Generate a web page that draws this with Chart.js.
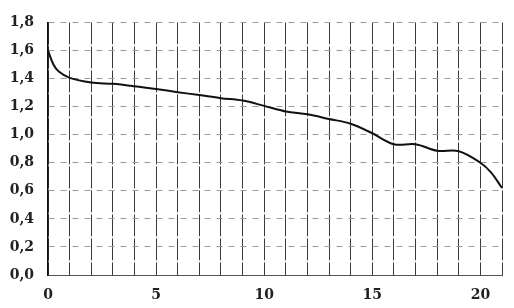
<!DOCTYPE html>
<html>
<head>
<meta charset="utf-8">
<script src="https://cdn.jsdelivr.net/npm/chart.js@4/dist/chart.umd.min.js"></script>
<style>
  body { margin: 0; background: #fff; }
  #wrap { width: 514px; height: 308px; }
</style>
</head>
<body>
<div id="wrap"><canvas id="chart"></canvas></div>
<script>
// values
var xValues = [0, 0.25, 0.5, 1, 2, 3, 4, 5, 6, 7, 8, 9, 10, 11, 12, 13, 14, 15, 16, 17, 18, 19, 20, 20.5, 21];
var yValues = [1.60, 1.50, 1.45, 1.405, 1.372, 1.362, 1.345, 1.325, 1.303, 1.282, 1.260, 1.243, 1.205, 1.165, 1.145, 1.112, 1.078, 1.010, 0.932, 0.932, 0.885, 0.882, 0.80, 0.73, 0.62];
var xTickLabels = [0, 5, 10, 15, 20];

var points = [];
for (var i = 0; i < xValues.length; i++) {
    points.push({x: xValues[i], y: yValues[i]});
}

var labelFont = {family: "'DejaVu Serif', 'Liberation Serif', serif", size: 14, weight: 'bold'};

var chart = new Chart("chart", {
    type: "line",
    data: {
        datasets: [{
            data: points,
            borderColor: "#111",
            borderWidth: 2,
            pointRadius: 0,
            fill: false,
            tension: 0.35
        }]
    },
    options: {
        responsive: true,
        maintainAspectRatio: false,
        animation: false,
        layout: {padding: {top: 15, right: 10, left: 0, bottom: 0}},
        plugins: {legend: {display: false}, tooltip: {enabled: false}},
        scales: {
            x: {
                type: "linear",
                min: 0,
                max: 21,
                ticks: {
                    stepSize: 1,
                    autoSkip: false,
                    maxRotation: 0,
                    minRotation: 0,
                    padding: 12,
                    color: "#222",
                    font: labelFont,
                    callback: function(v) { return xTickLabels.indexOf(v) >= 0 ? String(v) : ""; }
                },
                grid: {color: "#3a3a3a", lineWidth: 1, drawTicks: false},
                border: {display: true, color: "#555", width: 1, dash: [22, 2]},
                afterFit: function(scale) { scale.height = 33; }
            },
            y: {
                min: 0,
                max: 1.8,
                ticks: {
                    stepSize: 0.2,
                    padding: 14,
                    color: "#222",
                    font: labelFont,
                    callback: function(v) { return v.toFixed(1).replace(".", ","); }
                },
                grid: {color: "#9a9a9a", lineWidth: 1, drawTicks: false},
                border: {display: true, color: "#111", width: 1.5, dash: [6, 6]},
                afterFit: function(scale) { scale.width = 48; }
            }
        }
    }
});
</script>
</body>
</html>
